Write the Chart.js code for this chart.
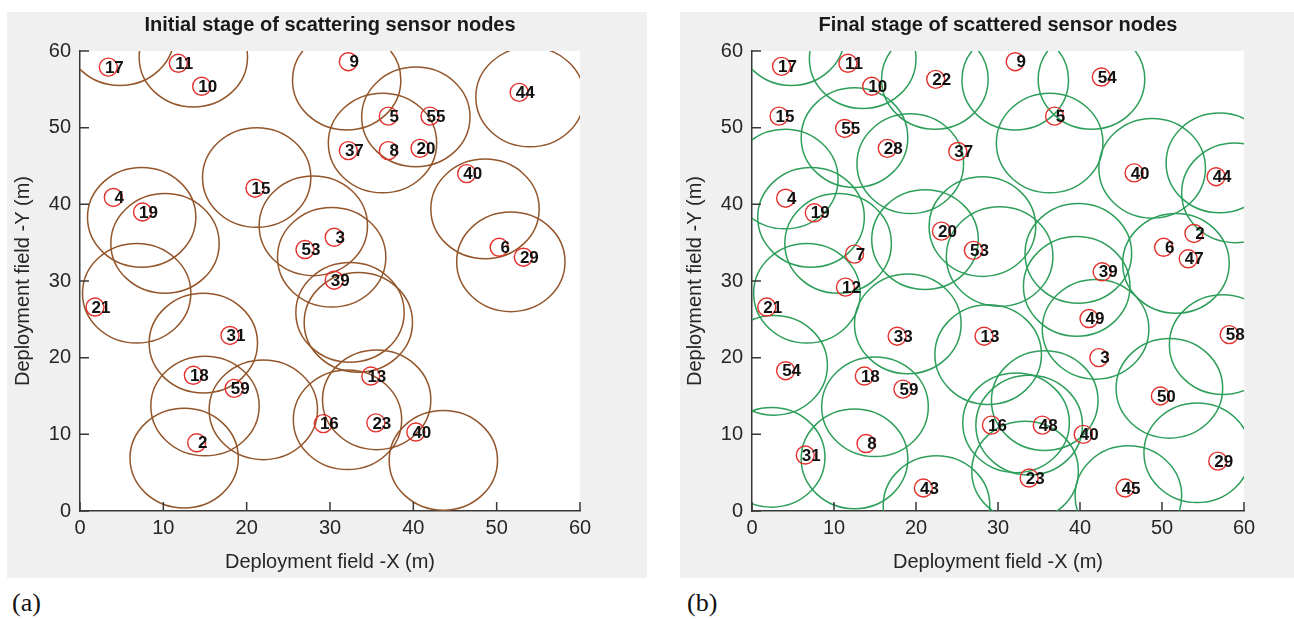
<!DOCTYPE html>
<html>
<head>
<meta charset="utf-8">
<title>Sensor node scattering</title>
<script src="https://cdn.jsdelivr.net/npm/chart.js@4.4.1/dist/chart.umd.min.js"></script>
<style>
  body { margin: 0; background: #fff; width: 1294px; height: 620px; position: relative; overflow: hidden; }
  canvas { position: absolute; background: #f0f0f0; }
  #chartA { left: 7px; top: 12px; }
  #chartB { left: 680px; top: 12px; }
  .tag { position: absolute; top: 588px; font-family: "Liberation Serif", "Times New Roman", serif; font-size: 26px; color: #111; }
</style>
</head>
<body>
<canvas id="chartA" width="640" height="566"></canvas>
<canvas id="chartB" width="614" height="566"></canvas>
<div class="tag" style="left:12px">(a)</div>
<div class="tag" style="left:687px">(b)</div>
<script>
// sensing radius (m) and axis ticks
const sensingRange = 6.5;
const axisTicks = [0, 10, 20, 30, 40, 50, 60];

// (a) initial stage: node ids and positions
const idsA = [17, 11, 10, 9, 5, 55, 44, 37, 8, 20, 15, 4, 40, 19, 3, 53, 6, 29, 39, 21, 31, 18, 59, 13, 16, 23, 40, 2];
const nodeXA = [3.4, 11.8, 14.6, 32.2, 37.0, 42.0, 52.7, 32.2, 37.0, 40.8, 21.0, 4.0, 46.4, 7.5, 30.5, 27.0, 50.3, 53.2, 30.5, 1.8, 18.0, 13.6, 18.5, 34.9, 29.2, 35.5, 40.3, 14.0];
const nodeYA = [57.9, 58.4, 55.4, 58.6, 51.5, 51.5, 54.6, 47.0, 47.0, 47.3, 42.1, 40.9, 44.0, 39.0, 35.7, 34.1, 34.4, 33.1, 30.1, 26.6, 22.9, 17.7, 16.0, 17.6, 11.4, 11.5, 10.3, 8.9];
// (a) sensing range centres
const rangeXA = [4.8, 13.6, 32.0, 40.3, 36.3, 54.0, 48.6, 51.7, 21.2, 7.4, 10.2, 6.8, 28.0, 30.2, 32.4, 33.4, 14.8, 15.0, 12.5, 22.0, 32.1, 35.6, 43.6];
const rangeYA = [62.0, 59.2, 56.2, 51.4, 48.0, 54.0, 39.4, 32.5, 43.5, 38.3, 34.9, 28.4, 37.2, 33.1, 25.9, 24.6, 21.9, 13.7, 6.9, 13.2, 11.9, 14.5, 6.6];

// (b) final stage: node ids and positions
const idsB = [17, 11, 10, 22, 9, 54, 15, 55, 5, 28, 37, 40, 44, 4, 19, 20, 53, 7, 6, 2, 47, 39,
              12, 21, 49, 33, 13, 58, 3, 54, 18, 59, 50, 16, 48, 40, 8, 31, 29, 23, 43, 45];
const nodeXB = [3.6, 11.7, 14.6, 22.4, 32.1, 42.6, 3.3, 11.3, 36.9, 16.5, 25.1, 46.6, 56.6, 4.1, 7.6, 23.1, 27.0, 12.5, 50.2, 53.9, 53.2, 42.7,
                11.4, 1.8, 41.1, 17.7, 28.3, 58.2, 42.3, 4.1, 13.7, 18.4, 49.8, 29.2, 35.4, 40.4, 13.9, 6.5, 56.8, 33.8, 20.9, 45.5];
const nodeYB = [58.0, 58.4, 55.4, 56.3, 58.6, 56.6, 51.5, 49.9, 51.5, 47.3, 46.9, 44.1, 43.6, 40.8, 38.9, 36.5, 34.0, 33.5, 34.4, 36.2, 32.9, 31.2,
                29.2, 26.6, 25.1, 22.8, 22.8, 23.0, 20.0, 18.3, 17.6, 15.9, 15.0, 11.2, 11.2, 10.0, 8.8, 7.3, 6.5, 4.3, 3.0, 3.0];
// (b) sensing range centres
const rangeXB = [4.8, 13.5, 22.3, 32.1, 41.4, 36.3, 12.5, 19.3, 48.8, 57.0, 58.9, 4.0, 7.2, 10.5, 21.1, 28.1, 30.2, 39.8, 39.6,
                 51.7, 6.7, 19.0, 41.9, 28.8, 2.7, 15.0, 12.5, 2.4, 22.5, 32.2, 33.8, 35.7, 33.3, 45.9, 50.9, 57.4, 54.3];
const rangeYB = [62.0, 59.0, 56.3, 56.2, 56.3, 48.0, 48.7, 45.3, 44.7, 45.4, 41.5, 43.3, 38.3, 34.9, 35.4, 37.1, 33.2, 33.6, 29.3,
                 32.3, 28.4, 24.4, 23.7, 20.4, 19.0, 13.6, 6.8, 7.0, 0.7, 11.5, 11.2, 14.4, 5.2, 2.0, 16.0, 21.7, 7.6];

Chart.defaults.font.family = '"Liberation Sans", Arial, sans-serif';
Chart.defaults.color = '#262626';

const axisColor = '#383838';

// white plot area, sensing circles, node numbers and inward tick marks
function fieldPlugin(ids, rangeX, rangeY, rangeColor) {
  return {
    id: 'field',
    beforeDraw(chart) {
      const { ctx, chartArea: a } = chart;
      ctx.save();
      ctx.fillStyle = '#ffffff';
      ctx.fillRect(a.left, a.top, a.width, a.height);
      ctx.restore();
    },
    beforeDatasetsDraw(chart) {
      const { ctx, chartArea: a, scales: { x, y } } = chart;
      ctx.save();
      ctx.beginPath();
      ctx.rect(a.left, a.top, a.width, a.height);
      ctx.clip();
      ctx.strokeStyle = rangeColor;
      ctx.lineWidth = 1.5;
      rangeX.forEach((cx, i) => {
        const px = x.getPixelForValue(cx);
        const py = y.getPixelForValue(rangeY[i]);
        const rx = x.getPixelForValue(cx + sensingRange) - px;
        const ry = py - y.getPixelForValue(rangeY[i] + sensingRange);
        ctx.beginPath();
        ctx.ellipse(px, py, rx, ry, 0, 0, Math.PI * 2);
        ctx.stroke();
      });
      ctx.restore();
    },
    afterDatasetsDraw(chart) {
      const { ctx } = chart;
      const pts = chart.getDatasetMeta(0).data;
      ctx.save();
      ctx.font = 'bold 17px "Liberation Sans", Arial, sans-serif';
      ctx.fillStyle = '#111';
      ctx.textAlign = 'center';
      ctx.textBaseline = 'middle';
      pts.forEach((p, i) => ctx.fillText(String(ids[i]), p.x + 6, p.y + 1));
      ctx.restore();
    },
    afterDraw(chart) {
      const { ctx, chartArea: a, scales: { x, y } } = chart;
      ctx.save();
      ctx.strokeStyle = axisColor;
      ctx.lineWidth = 1.5;
      ctx.beginPath();
      axisTicks.forEach(v => {
        const px = x.getPixelForValue(v);
        ctx.moveTo(px, a.bottom);
        ctx.lineTo(px, a.bottom - 9);
        const py = y.getPixelForValue(v);
        ctx.moveTo(a.left, py);
        ctx.lineTo(a.left + 9, py);
      });
      ctx.stroke();
      ctx.restore();
    }
  };
}

function axis(pos, label, size, titlePad, tickPad) {
  return {
    type: 'linear',
    position: pos,
    min: 0,
    max: 60,
    afterBuildTicks: s => { s.ticks = axisTicks.map(v => ({ value: v })); },
    afterFit: s => { if (pos === 'bottom') s.height = size; else s.width = size; },
    grid: { drawOnChartArea: false, drawTicks: false },
    border: { display: true, color: axisColor, width: 1.5 },
    ticks: { padding: tickPad, maxRotation: 0, font: { size: 20 }, color: '#262626' },
    title: { display: true, text: label, font: { size: 20 }, color: '#262626', padding: titlePad }
  };
}

function buildChart(canvasId, titleText, ids, nodeX, nodeY, rangeX, rangeY, rangeColor, yWidth, yTitlePad, rightPad) {
  return new Chart(document.getElementById(canvasId), {
    type: 'scatter',
    data: {
      datasets: [{
        data: nodeX.map((v, i) => ({ x: v, y: nodeY[i] })),
        pointStyle: 'circle',
        pointRadius: 9,
        pointHoverRadius: 9,
        borderWidth: 1.4,
        borderColor: '#e3312d',
        backgroundColor: 'rgba(0,0,0,0)'
      }]
    },
    options: {
      responsive: false,
      devicePixelRatio: 1,
      animation: false,
      events: [],
      layout: { padding: { left: 0, right: rightPad, top: 0, bottom: 0 } },
      plugins: {
        legend: { display: false },
        tooltip: { enabled: false },
        title: {
          display: true,
          text: titleText,
          fullSize: false,
          color: '#1a1a1a',
          font: { size: 20, weight: 'bold' },
          padding: { top: 1, bottom: 14 }
        }
      },
      scales: {
        x: axis('bottom', 'Deployment field -X (m)', 67, { top: 4, bottom: 4 }, 5),
        y: axis('left', 'Deployment field -Y (m)', yWidth, { top: yTitlePad, bottom: 4 }, 9)
      }
    },
    plugins: [fieldPlugin(ids, rangeX, rangeY, rangeColor)]
  });
}

buildChart('chartA', 'Initial stage of scattering sensor nodes', idsA, nodeXA, nodeYA, rangeXA, rangeYA, '#93552a', 73, 4, 67);
buildChart('chartB', 'Final stage of scattered sensor nodes', idsB, nodeXB, nodeYB, rangeXB, rangeYB, '#2e9e5b', 72, 3, 50);
</script>
</body>
</html>
